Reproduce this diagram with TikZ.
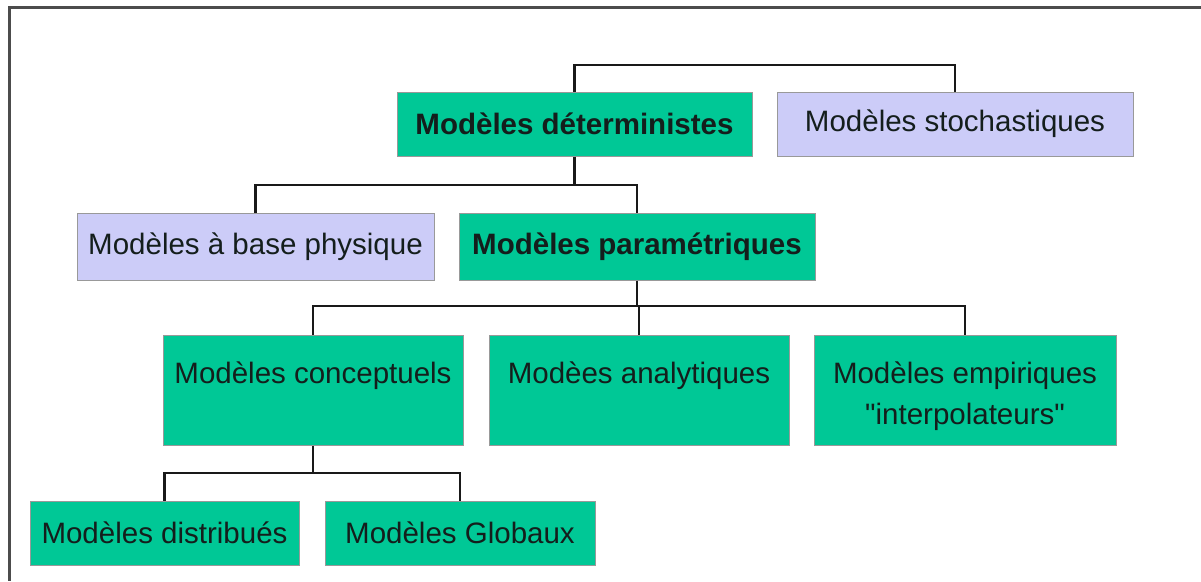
\documentclass[tikz,border=0pt]{standalone}
\usepackage{fontspec}
\setmainfont{Liberation Sans}[Ligatures=TeXOff]
\definecolor{grn}{RGB}{0,200,150}
\definecolor{lav}{RGB}{204,204,248}
\definecolor{txt}{RGB}{20,30,28}
\begin{document}
\begin{tikzpicture}[x=1pt,y=-1pt,
  box/.style={draw=gray!80,line width=1pt,inner sep=0pt,text=txt,
    font=\fontsize{29.5}{36}\selectfont},
  gbox/.style={box,fill=grn},
  lbox/.style={box,fill=lav},
  link/.style={line width=2.6pt,draw=black!90},
  frame/.style={line width=3pt,draw=black!70}]
\useasboundingbox (0,0) rectangle (1201,581);
\draw[frame] (1201,7.5) -- (9.5,7.5) -- (9.5,581);
% level 1
\node[gbox,minimum width=355pt,minimum height=64pt] (det) at (574.5,124) {\textbf{Modèles déterministes}};
\node[lbox,minimum width=356pt,minimum height=64pt] (sto) at (955,124) {Modèles stochastiques};
% level 2
\node[lbox,minimum width=357pt,minimum height=67pt] (phys) at (255.5,246.5) {Modèles à base physique};
\node[gbox,minimum width=356pt,minimum height=67pt] (par) at (637,246.5) {\textbf{Modèles paramétriques}};
% level 3
\node[gbox] (conc) at (313,390) {\parbox[c][110pt][t]{300pt}{\vspace*{27pt}\centering Modèles conceptuels\par}};
\node[gbox] (ana) at (639,390) {\parbox[c][110pt][t]{300pt}{\vspace*{27pt}\centering Modèes analytiques\par}};
\node[gbox] (emp) at (965,390) {\parbox[c][110pt][t]{302pt}{\vspace*{27pt}\centering\fontsize{29.5}{41}\selectfont Modèles empiriques\\"interpolateurs"\par}};
% level 4
\node[gbox,minimum width=269pt,minimum height=64pt] (dist) at (164.5,533) {Modèles distribués};
\node[gbox,minimum width=270pt,minimum height=64pt] (glob) at (460,533) {Modèles Globaux};
% connector levels
\coordinate (h0) at (0,65);
\coordinate (h1) at (0,185);
\coordinate (h2) at (0,306);
\coordinate (h3) at (0,473);
\draw[link] (det.north) -- (det.north |- h0) -- (sto.north |- h0) -- (sto.north);
\draw[link] (det.south) -- (det.south |- h1);
\draw[link] (phys.north) -- (phys.north |- h1) -- (par.north |- h1) -- (par.north);
\draw[link] (par.south) -- (par.south |- h2);
\draw[link] (conc.north) -- (conc.north |- h2) -- (emp.north |- h2) -- (emp.north);
\draw[link] (ana.north) -- (ana.north |- h2);
\draw[link] (conc.south) -- (conc.south |- h3);
\draw[link] (dist.north) -- (dist.north |- h3) -- (glob.north |- h3) -- (glob.north);
\end{tikzpicture}
\end{document}
